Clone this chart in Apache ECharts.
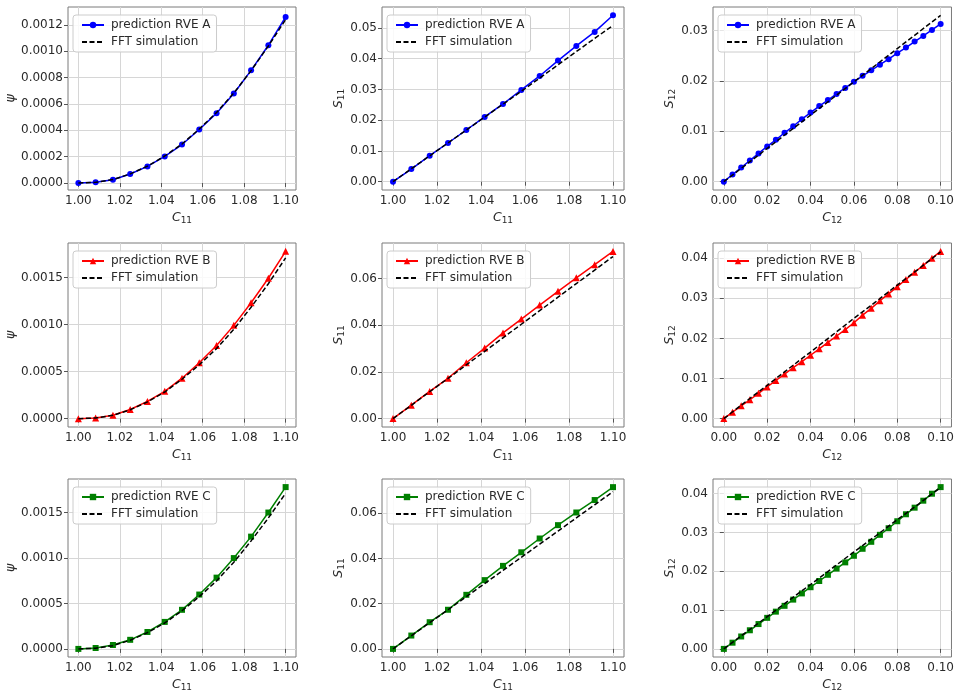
<!DOCTYPE html>
<html>
<head>
<meta charset="utf-8">
<script src="https://cdn.jsdelivr.net/npm/echarts@6/dist/echarts.min.js"></script>
<style>
  html, body { margin: 0; padding: 0; background: #fff; }
  #chart { width: 957px; height: 693px; }
</style>
</head>
<body>
<div id="chart"></div>
<script>
// Stretch values (C11 for normal loading, C12 for shear loading)
const c11 = [1.0, 1.00833, 1.01667, 1.025, 1.03333, 1.04167, 1.05, 1.05833, 1.06667, 1.075, 1.08333, 1.09167, 1.1];
const c12 = [0, 0.004, 0.008, 0.012, 0.016, 0.02, 0.024, 0.028, 0.032, 0.036, 0.04, 0.044, 0.048,
             0.052, 0.056, 0.06, 0.064, 0.068, 0.072, 0.076, 0.08, 0.084, 0.088, 0.092, 0.096, 0.1];
const c12Fft = [0, 0.01, 0.02, 0.03, 0.04, 0.05, 0.06, 0.07, 0.08, 0.09, 0.1];

// RVE A
const psiA = [0, 0.000005, 0.000025, 0.000068, 0.000126, 0.000202, 0.000292, 0.000406, 0.00053, 0.00068, 0.000855, 0.001046, 0.00126];
const psiFftA = [0, 0.000005, 0.000026, 0.000069, 0.000128, 0.000205, 0.000296, 0.00041, 0.000535, 0.000683, 0.000853, 0.00104, 0.00124];
const s11A = [0, 0.00412, 0.00846, 0.01258, 0.01681, 0.02104, 0.02527, 0.02983, 0.03438, 0.03937, 0.04414, 0.0487, 0.05412];
const s11FftA = [0, 0.0042, 0.0084, 0.0126, 0.0168, 0.021, 0.0252, 0.0294, 0.0337, 0.038, 0.0423, 0.0466, 0.0508];
const s12A = [0, 0.00143, 0.0028, 0.0042, 0.0056, 0.007, 0.0083, 0.0097, 0.011, 0.0124, 0.0137, 0.015, 0.0162,
              0.0174, 0.0186, 0.0198, 0.021, 0.0221, 0.0232, 0.0243, 0.0255, 0.0266, 0.0278, 0.0289, 0.0301, 0.0313];
const s12FftA = [0, 0.0033, 0.0066, 0.0099, 0.0132, 0.0165, 0.0198, 0.0231, 0.0264, 0.0297, 0.033];

// RVE B
const psiB = [0, 0.000007, 0.000036, 0.000097, 0.000183, 0.00029, 0.00043, 0.000594, 0.000777, 0.000992, 0.001232, 0.001493, 0.001779];
const psiFftB = [0, 0.000007, 0.000035, 0.000094, 0.000178, 0.000283, 0.000419, 0.000573, 0.000745, 0.00095, 0.001185, 0.001435, 0.00171];
const s11B = [0, 0.00576, 0.01165, 0.01727, 0.0239, 0.0302, 0.0367, 0.0426, 0.0486, 0.0545, 0.0603, 0.0659, 0.0716];
const s11FftB = [0, 0.0057, 0.0115, 0.0172, 0.023, 0.0288, 0.0346, 0.0404, 0.0462, 0.052, 0.0578, 0.0636, 0.0694];
const s12B = [0, 0.0016, 0.0032, 0.0047, 0.0063, 0.0079, 0.0095, 0.0111, 0.0127, 0.0142, 0.0158, 0.0174, 0.019,
              0.0206, 0.0222, 0.0239, 0.0258, 0.0275, 0.0294, 0.0311, 0.0329, 0.0347, 0.0365, 0.0382, 0.04, 0.0417];
const s12FftB = [0, 0.0042, 0.0083, 0.0125, 0.0166, 0.0208, 0.025, 0.0291, 0.0333, 0.0374, 0.0416];

// RVE C
const psiC = [0, 0.00001, 0.000043, 0.0001, 0.000186, 0.000297, 0.00043, 0.000598, 0.000784, 0.000999, 0.001235, 0.0015, 0.00178];
const psiFftC = [0, 0.000008, 0.000036, 0.000095, 0.000179, 0.000285, 0.00042, 0.000575, 0.000748, 0.000953, 0.001188, 0.00144, 0.001712];
const s11C = [0, 0.0059, 0.0118, 0.0173, 0.0239, 0.0304, 0.0367, 0.0427, 0.0488, 0.0547, 0.0603, 0.0658, 0.0715];
const s11FftC = [0, 0.0058, 0.0116, 0.0173, 0.0231, 0.0289, 0.0347, 0.0405, 0.0463, 0.0521, 0.0579, 0.0637, 0.0695];
const s12C = [0, 0.0016, 0.0032, 0.0048, 0.0064, 0.008, 0.0096, 0.0111, 0.0127, 0.0143, 0.0159, 0.0175, 0.0191,
              0.0207, 0.0223, 0.024, 0.0258, 0.0276, 0.0294, 0.0311, 0.0329, 0.0347, 0.0364, 0.0382, 0.04, 0.0417];
const s12FftC = [0, 0.0042, 0.0083, 0.0125, 0.0166, 0.0208, 0.025, 0.0291, 0.0333, 0.0374, 0.0416];

// Tick labels
const ticksC11 = [1.0, 1.02, 1.04, 1.06, 1.08, 1.1];
const ticksC12 = [0, 0.02, 0.04, 0.06, 0.08, 0.1];
const ticksPsiA = [0, 0.0002, 0.0004, 0.0006, 0.0008, 0.001, 0.0012];
const ticksPsiBC = [0, 0.0005, 0.001, 0.0015];
const ticksS11A = [0, 0.01, 0.02, 0.03, 0.04, 0.05];
const ticksS11BC = [0, 0.02, 0.04, 0.06];
const ticksS12A = [0, 0.01, 0.02, 0.03];
const ticksS12BC = [0, 0.01, 0.02, 0.03, 0.04];

const rves = [
  { name: 'prediction RVE A', color: '#0000ff', symbol: 'circle', size: 6 },
  { name: 'prediction RVE B', color: '#ff0000', symbol: 'triangle', size: 7 },
  { name: 'prediction RVE C', color: '#008000', symbol: 'rect', size: 6 }
];
const fftName = 'FFT simulation';

const zip = (xs, ys) => xs.map((x, i) => [x, ys[i]]);

// Panel layout: columns (psi, S11, S12) x rows (RVE A, B, C)
const colLeft = [68, 382, 713];
const colWidth = [228, 242, 239];
const rowTop = [7, 243, 479];
const rowHeight = [183, 184, 184];

const panels = [
  // row A
  { r: 0, c: 0, x: c11, y: psiA, fx: c11, fy: psiFftA, xr: [0.995, 1.105, 0.02], yr: [-0.000053, 0.001336, 0.0002], xt: ticksC11, yt: ticksPsiA, xd: 2, yd: 4, xn: 'C11', yn: 'psi' },
  { r: 0, c: 1, x: c11, y: s11A, fx: c11, fy: s11FftA, xr: [0.995, 1.105, 0.02], yr: [-0.0027, 0.0568, 0.01], xt: ticksC11, yt: ticksS11A, xd: 2, yd: 2, xn: 'C11', yn: 'S11' },
  { r: 0, c: 2, x: c12, y: s12A, fx: c12Fft, fy: s12FftA, xr: [-0.005, 0.105, 0.02], yr: [-0.00165, 0.03465, 0.01], xt: ticksC12, yt: ticksS12A, xd: 2, yd: 2, xn: 'C12', yn: 'S12' },
  // row B
  { r: 1, c: 0, x: c11, y: psiB, fx: c11, fy: psiFftB, xr: [0.995, 1.105, 0.02], yr: [-0.000089, 0.001868, 0.0005], xt: ticksC11, yt: ticksPsiBC, xd: 2, yd: 4, xn: 'C11', yn: 'psi' },
  { r: 1, c: 1, x: c11, y: s11B, fx: c11, fy: s11FftB, xr: [0.995, 1.105, 0.02], yr: [-0.0036, 0.0752, 0.02], xt: ticksC11, yt: ticksS11BC, xd: 2, yd: 2, xn: 'C11', yn: 'S11' },
  { r: 1, c: 2, x: c12, y: s12B, fx: c12Fft, fy: s12FftB, xr: [-0.005, 0.105, 0.02], yr: [-0.00209, 0.04379, 0.01], xt: ticksC12, yt: ticksS12BC, xd: 2, yd: 2, xn: 'C12', yn: 'S12' },
  // row C
  { r: 2, c: 0, x: c11, y: psiC, fx: c11, fy: psiFftC, xr: [0.995, 1.105, 0.02], yr: [-0.000089, 0.001869, 0.0005], xt: ticksC11, yt: ticksPsiBC, xd: 2, yd: 4, xn: 'C11', yn: 'psi' },
  { r: 2, c: 1, x: c11, y: s11C, fx: c11, fy: s11FftC, xr: [0.995, 1.105, 0.02], yr: [-0.00358, 0.0751, 0.02], xt: ticksC11, yt: ticksS11BC, xd: 2, yd: 2, xn: 'C11', yn: 'S11' },
  { r: 2, c: 2, x: c12, y: s12C, fx: c12Fft, fy: s12FftC, xr: [-0.005, 0.105, 0.02], yr: [-0.00209, 0.04379, 0.01], xt: ticksC12, yt: ticksS12BC, xd: 2, yd: 2, xn: 'C12', yn: 'S12' }
];

const TEXT = '#2a2a2a';
const FONT = 'DejaVu Sans';
const nameRich = {
  i: { fontFamily: FONT, fontStyle: 'italic', fontSize: 12.5, color: TEXT },
  s: { fontFamily: FONT, fontSize: 9, color: TEXT, padding: [6, 0, 0, 0] }
};
const axisNameText = n => n === 'psi' ? '{i|ψ}' : '{i|' + n[0] + '}{s|' + n.slice(1) + '}';
const yNameGap = [50, 34, 36];

const grid = [], xAxis = [], yAxis = [], series = [], legend = [];

panels.forEach((p, k) => {
  const rve = rves[p.r];
  grid.push({
    left: colLeft[p.c], top: rowTop[p.r], width: colWidth[p.c], height: rowHeight[p.r],
    show: true, borderColor: '#7a7a7a', borderWidth: 1, backgroundColor: '#fff'
  });
  const common = {
    gridIndex: k, type: 'value', nameLocation: 'middle',
    axisLine: { show: false },
    axisTick: { show: true, length: 4, lineStyle: { color: '#555' } },
    splitLine: { show: true, lineStyle: { color: '#d6d6d6', width: 1 } },
    nameTextStyle: { rich: nameRich }
  };
  xAxis.push(Object.assign({}, common, {
    min: p.xr[0], max: p.xr[1], minInterval: p.xr[2], maxInterval: p.xr[2],
    name: axisNameText(p.xn), nameGap: 20,
    axisTick: Object.assign({}, common.axisTick, { customValues: p.xt }),
    axisLabel: {
      customValues: p.xt, color: TEXT, fontFamily: FONT, fontSize: 12, margin: 5,
      formatter: v => v.toFixed(p.xd)
    }
  }));
  yAxis.push(Object.assign({}, common, {
    min: p.yr[0], max: p.yr[1], minInterval: p.yr[2], maxInterval: p.yr[2],
    name: axisNameText(p.yn), nameGap: yNameGap[p.c],
    axisTick: Object.assign({}, common.axisTick, { customValues: p.yt }),
    axisLabel: {
      customValues: p.yt, color: TEXT, fontFamily: FONT, fontSize: 12, margin: 5,
      formatter: v => v.toFixed(p.yd)
    }
  }));
  series.push({
    type: 'line', name: rve.name, xAxisIndex: k, yAxisIndex: k,
    data: zip(p.x, p.y), symbol: rve.symbol, symbolSize: rve.size, showSymbol: true,
    lineStyle: { color: rve.color, width: 1.5 }, itemStyle: { color: rve.color },
    z: 2, animation: false
  });
  series.push({
    type: 'line', name: fftName, xAxisIndex: k, yAxisIndex: k,
    data: zip(p.fx, p.fy), symbol: 'none', smooth: false,
    lineStyle: { color: '#000', width: 1.5, type: [5, 2.5] }, itemStyle: { color: '#000' },
    z: 3, animation: false
  });
  legend.push({
    data: [{ name: rve.name }, { name: fftName, itemStyle: { opacity: 0 } }],
    orient: 'vertical',
    left: colLeft[p.c] + 5, top: rowTop[p.r] + 8,
    backgroundColor: 'rgba(255,255,255,0.85)', borderColor: '#cccccc', borderWidth: 1, borderRadius: 3,
    padding: [4, 6, 4, 8], itemGap: 5, itemWidth: 22, itemHeight: 8,
    textStyle: { fontFamily: FONT, fontSize: 12, color: TEXT, padding: [0, 0, 0, 2] },
    selectedMode: false
  });
});

const chart = echarts.init(document.getElementById('chart'), null, { renderer: 'canvas' });
chart.setOption({
  animation: false,
  backgroundColor: '#fff',
  textStyle: { fontFamily: FONT },
  grid, xAxis, yAxis, series, legend
});
</script>
</body>
</html>
